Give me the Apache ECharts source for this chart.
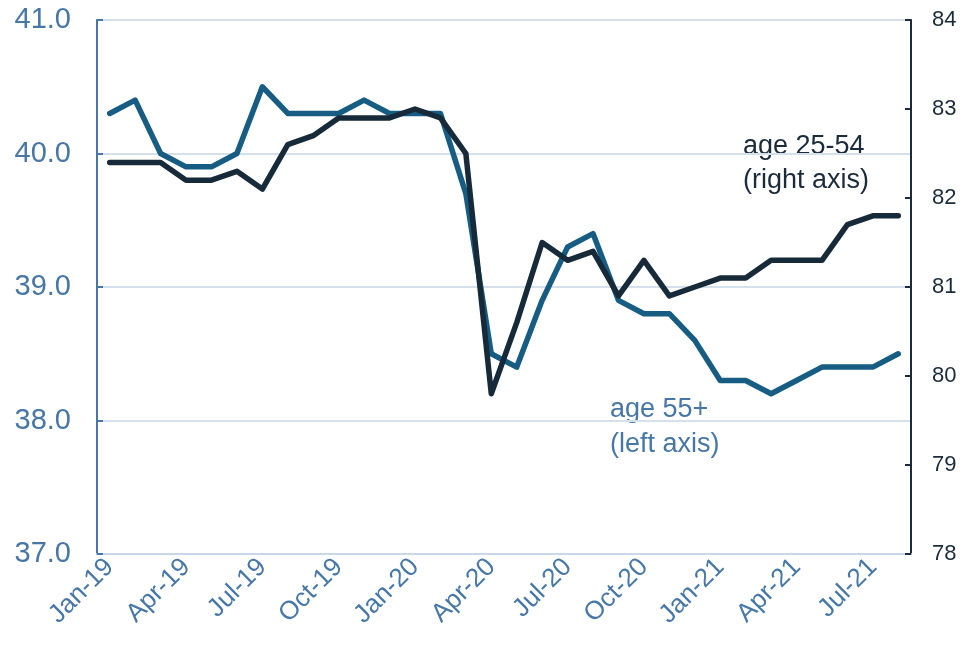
<!DOCTYPE html>
<html>
<head>
<meta charset="utf-8">
<script src="https://cdn.jsdelivr.net/npm/echarts@6/dist/echarts.min.js"></script>
<style>
  html, body { margin: 0; padding: 0; background: #fff; }
  #chart { width: 961px; height: 654px; }
</style>
</head>
<body>
<div id="chart"></div>
<script>
// months Jan-19 .. Aug-21
var months = [
  'Jan-19', 'Feb-19', 'Mar-19', 'Apr-19', 'May-19', 'Jun-19', 'Jul-19', 'Aug-19', 'Sep-19', 'Oct-19', 'Nov-19', 'Dec-19',
  'Jan-20', 'Feb-20', 'Mar-20', 'Apr-20', 'May-20', 'Jun-20', 'Jul-20', 'Aug-20', 'Sep-20', 'Oct-20', 'Nov-20', 'Dec-20',
  'Jan-21', 'Feb-21', 'Mar-21', 'Apr-21', 'May-21', 'Jun-21', 'Jul-21', 'Aug-21'
];
// age 55+ (left axis)
var age55 = [
  40.3, 40.4, 40.0, 39.9, 39.9, 40.0, 40.5, 40.3, 40.3, 40.3, 40.4, 40.3,
  40.3, 40.3, 39.7, 38.5, 38.4, 38.9, 39.3, 39.4, 38.9, 38.8, 38.8, 38.6,
  38.3, 38.3, 38.2, 38.3, 38.4, 38.4, 38.4, 38.5
];
// age 25-54 (right axis)
var age2554 = [
  82.4, 82.4, 82.4, 82.2, 82.2, 82.3, 82.1, 82.6, 82.7, 82.9, 82.9, 82.9,
  83.0, 82.9, 82.5, 79.8, 80.6, 81.5, 81.3, 81.4, 80.9, 81.3, 80.9, 81.0,
  81.1, 81.1, 81.3, 81.3, 81.3, 81.7, 81.8, 81.8
];

var blueText = '#4677a7';
var darkText = '#1b2b3b';
var font = 'Liberation Sans, Arial, sans-serif';

var myChart = echarts.init(document.getElementById('chart'));
var option = {
  animation: false,
  grid: { left: 97, right: 50, top: 20, bottom: 100 },
  xAxis: {
    type: 'category',
    data: months,
    boundaryGap: true,
    axisLine: { lineStyle: { color: '#c9d8e7', width: 2 } },
    axisTick: { show: false },
    axisLabel: {
      interval: 2,
      rotate: 45,
      margin: 9,
      color: blueText,
      fontSize: 26,
      fontFamily: font
    }
  },
  yAxis: [
    {
      type: 'value',
      min: 37,
      max: 41,
      interval: 1,
      axisLine: { show: true, lineStyle: { color: '#4677a7', width: 2 } },
      axisTick: { show: true, inside: true, length: 6, lineStyle: { color: '#4677a7', width: 2 } },
      axisLabel: {
        margin: 26,
        color: blueText,
        fontSize: 29,
        fontFamily: font,
        formatter: function (v) { return v.toFixed(1); }
      },
      splitLine: { lineStyle: { color: '#d4e1ed', width: 2 } }
    },
    {
      type: 'value',
      min: 78,
      max: 84,
      interval: 1,
      position: 'right',
      axisLine: { show: true, lineStyle: { color: '#1b2b3b', width: 2 } },
      axisTick: { show: true, inside: true, length: 6, lineStyle: { color: '#1b2b3b', width: 2 } },
      axisLabel: {
        margin: 21,
        color: darkText,
        fontSize: 22,
        fontFamily: font
      },
      splitLine: { show: false }
    }
  ],
  series: [
    {
      name: 'age 55+',
      type: 'line',
      yAxisIndex: 0,
      data: age55,
      symbol: 'none',
      lineStyle: { color: '#175d83', width: 5.5, cap: 'round', join: 'round' },
      z: 2
    },
    {
      name: 'age 25-54',
      type: 'line',
      yAxisIndex: 1,
      data: age2554,
      symbol: 'none',
      lineStyle: { color: '#172a3a', width: 5.5, cap: 'round', join: 'round' },
      z: 3
    }
  ],
  graphic: [
    {
      type: 'text',
      left: 743,
      top: 130,
      style: {
        text: 'age 25-54\n(right axis)',
        fill: darkText,
        font: '27px ' + font,
        lineHeight: 34
      }
    },
    {
      type: 'text',
      left: 610,
      top: 392,
      style: {
        text: 'age 55+\n(left axis)',
        fill: blueText,
        font: '27px ' + font,
        lineHeight: 35
      }
    }
  ]
};
myChart.setOption(option);
</script>
</body>
</html>
